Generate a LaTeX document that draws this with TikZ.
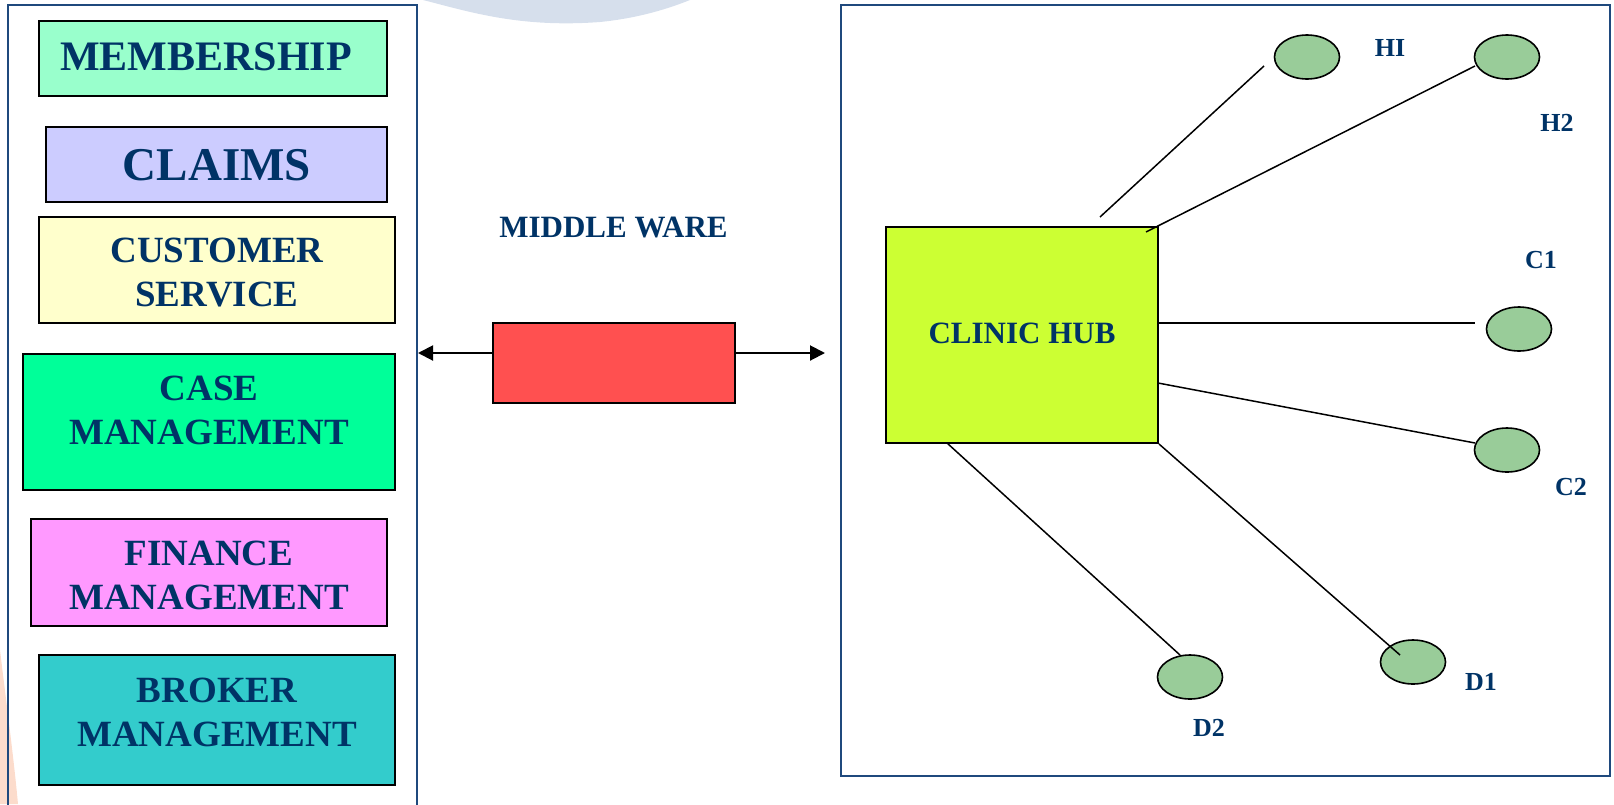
\documentclass[tikz,border=0pt]{standalone}
\usepackage{fontspec}
\setmainfont{Liberation Serif}
\usetikzlibrary{shapes.geometric,arrows.meta}
\definecolor{navy}{RGB}{0,51,102}
\definecolor{panelblue}{RGB}{31,73,125}
\definecolor{cmember}{RGB}{153,255,204}
\definecolor{cclaims}{RGB}{204,204,255}
\definecolor{ccust}{RGB}{255,255,204}
\definecolor{ccase}{RGB}{0,255,153}
\definecolor{cfin}{RGB}{255,153,255}
\definecolor{cbroker}{RGB}{51,204,204}
\definecolor{cred}{RGB}{255,80,80}
\definecolor{chub}{RGB}{204,255,51}
\definecolor{cnode}{RGB}{153,204,153}
\definecolor{bgblue}{RGB}{214,223,236}
\definecolor{bgpeach}{RGB}{250,196,170}
\tikzset{
  panel/.style={draw=panelblue,line width=1.8pt},
  modbox/.style={draw=black,line width=2pt,rectangle,inner sep=0pt},
  modtext/.style={text=navy,font=\bfseries\fontsize{37}{44}\selectfont,align=center,inner sep=0pt},
  lbl/.style={text=navy,font=\bfseries\fontsize{26}{30}\selectfont,inner sep=0pt},
  site/.style={ellipse,draw=black,line width=1.6pt,fill=cnode,minimum width=65pt,minimum height=44pt,inner sep=0pt},
  link/.style={draw=black,line width=1.5pt},
  tipped/.style={line width=2pt,-{Triangle[length=15pt,width=15pt]}}
}
\begin{document}
\begin{tikzpicture}[x=1pt,y=-1pt]
\useasboundingbox (0,0) rectangle (1614,804);
\clip (0,0) rectangle (1614,804);
% faint background
\fill[bgblue] (423,0) .. controls (470,12) and (520,28) .. (600,22) .. controls (640,18) and (670,8) .. (690,0) -- cycle;
\fill[bgpeach!60] (0,650) .. controls (6,700) and (14,760) .. (18,804) -- (0,804) -- cycle;
% panels
\draw[panel] (8,5) rectangle (417,820);
\draw[panel] (841,5) rectangle (1610,776);
% module boxes
\node[modbox,fill=cmember,minimum width=348pt,minimum height=75pt] (member) at (213,58.5) {};
\node[modtext,font=\bfseries\fontsize{42}{48}\selectfont] (membert) at (206,57) {MEMBERSHIP};
\node[modbox,fill=cclaims,minimum width=341pt,minimum height=75pt] (claims) at (216.5,164.5) {};
\node[modtext,font=\bfseries\fontsize{47}{54}\selectfont] (claimst) at (217,165) {CLAIMS};
\node[modbox,fill=ccust,minimum width=356pt,minimum height=106pt] (cust) at (217,270) {};
\node[modtext] (custt) at (217,272.5) {CUSTOMER\\SERVICE};
\node[modbox,fill=ccase,minimum width=372pt,minimum height=136pt] (case) at (209,422) {};
\node[modtext] (caset) at (209,410) {CASE\\MANAGEMENT};
\node[modbox,fill=cfin,minimum width=356pt,minimum height=107pt] (fin) at (209,572.5) {};
\node[modtext] (fint) at (209,575) {FINANCE\\MANAGEMENT};
\node[modbox,fill=cbroker,minimum width=356pt,minimum height=130pt] (broker) at (217,720) {};
\node[modtext] (brokert) at (217,712) {BROKER\\MANAGEMENT};
% middleware
\node[text=navy,font=\bfseries\fontsize{31}{36}\selectfont,inner sep=0pt] (mwt) at (613.5,227.5) {MIDDLE WARE};
\node[modbox,fill=cred,minimum width=242pt,minimum height=80pt] (mw) at (614,363) {};
\coordinate (aL) at (418,353);
\coordinate (aR) at (825,353);
\draw[tipped] (mw.west |- aL) -- (aL);
\draw[tipped] (mw.east |- aR) -- (aR);
% clinic hub
\node[modbox,fill=chub,minimum width=272pt,minimum height=216pt] (hub) at (1022,335) {};
\node[text=navy,font=\bfseries\fontsize{31}{36}\selectfont,inner sep=0pt] (hubt) at (1022,333.5) {CLINIC HUB};
% sites
\node[site] (h1) at (1307,57) {};
\node[site] (h2) at (1507,57) {};
\node[site] (c1) at (1519,329) {};
\node[site] (c2) at (1507,450) {};
\node[site] (d1) at (1413,662) {};
\node[site] (d2) at (1190,677) {};
% labels
\node[lbl] (h1l) at (1390,48) {HI};
\node[lbl] (h2l) at (1557,123) {H2};
\node[lbl] (c1l) at (1541,260) {C1};
\node[lbl] (c2l) at (1571,487) {C2};
\node[lbl] (d1l) at (1481,682) {D1};
\node[lbl] (d2l) at (1209,728) {D2};
% connectors
\coordinate (h1a) at (1100,217);
\coordinate (h1b) at (1264,66);
\coordinate (h2a) at (1146,232);
\coordinate (h2b) at (1475,66);
\coordinate (c1b) at (1475,323);
\coordinate (c2a) at (1158,383);
\coordinate (c2b) at (1475,443);
\coordinate (d1b) at (1400,655);
\coordinate (d2a) at (947,443);
\coordinate (d2b) at (1180,655);
\draw[link] (h1a) -- (h1b);
\draw[link] (h2a) -- (h2b);
\draw[link] (hub.east |- c1b) -- (c1b);
\draw[link] (c2a) -- (c2b);
\draw[link] (hub.south east) -- (d1b);
\draw[link] (d2a) -- (d2b);
\end{tikzpicture}
\end{document}
